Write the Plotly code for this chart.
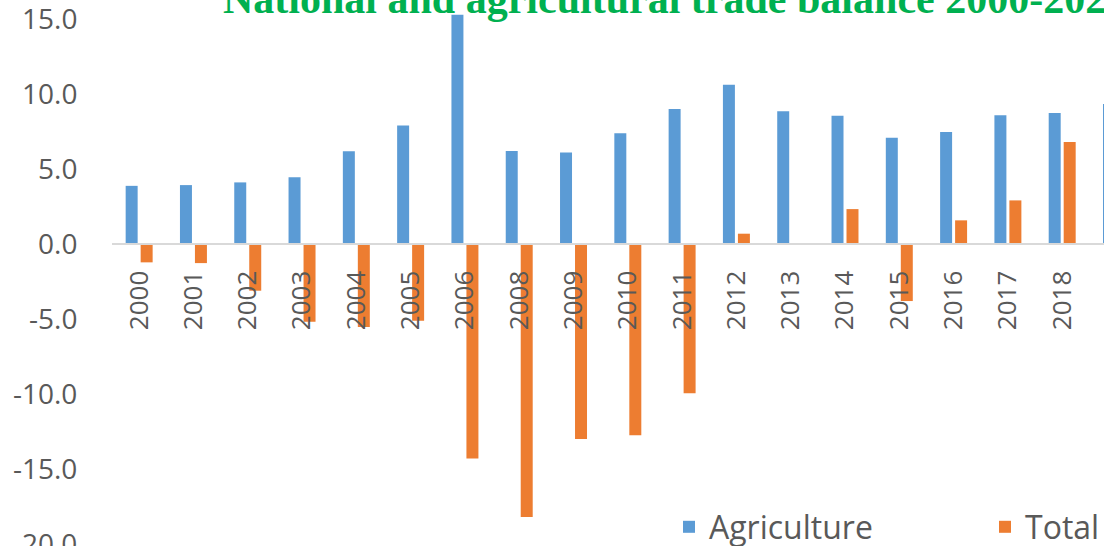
import plotly.graph_objects as go

YEARS = ["2000", "2001", "2002", "2003", "2004", "2005", "2006", "2008", "2009",
         "2010", "2011", "2012", "2013", "2014", "2015", "2016", "2017", "2018", "2019"]
AGRICULTURE = [3.9, 3.95, 4.13, 4.47, 6.2, 7.93, 15.3, 6.22, 6.13,
               7.4, 9.02, 10.64, 8.87, 8.57, 7.1, 7.49, 8.6, 8.75, 9.35]
TOTAL = [-1.2, -1.25, -3.09, -5.16, -5.51, -5.09, -14.27, -18.18, -12.98,
         -12.73, -9.93, 0.71, 0.0, 2.35, -3.78, 1.6, 2.93, 6.82, None]
Y_TICKS = [-20, -15, -10, -5, 0, 5, 10, 15]
TITLE = "National and agricultural trade balance 2000-2020"

BLUE = "#5B9BD5"
ORANGE = "#ED7D31"
GREY_TXT = "#595959"
FONT = "Open Sans, Lato, Arial, sans-serif"

W, H = 1104, 546
L_MARGIN = 112
Y_MIN, Y_MAX = -20.11, 16.29
X_RANGE = [-0.5, 17.77]

fig = go.Figure()
fig.add_trace(go.Bar(x=YEARS, y=AGRICULTURE, name="Agriculture",
                     marker=dict(color=BLUE, line=dict(width=0))))
fig.add_trace(go.Bar(x=YEARS, y=TOTAL, name="Total",
                     marker=dict(color=ORANGE, line=dict(width=0))))

zero_pos = (0 - Y_MIN) / (Y_MAX - Y_MIN)

fig.update_layout(
    width=W, height=H,
    margin=dict(l=L_MARGIN, r=0, t=0, b=0, autoexpand=False),
    paper_bgcolor="white",
    plot_bgcolor="white",
    barmode="group",
    bargap=0.448,
    bargroupgap=0.2,
    font=dict(family=FONT, color=GREY_TXT),
    xaxis=dict(
        type="category",
        categoryorder="array", categoryarray=YEARS,
        range=X_RANGE,
        anchor="free", position=zero_pos,
        showline=True, linecolor="#D9D9D9", linewidth=2,
        showgrid=False, zeroline=False,
        ticks="outside", ticklen=15, tickcolor="rgba(0,0,0,0)",
        tickangle=-90,
        automargin=False,
        tickfont=dict(size=26, color=GREY_TXT, family=FONT),
    ),
    yaxis=dict(
        range=[Y_MIN, Y_MAX],
        tickvals=Y_TICKS,
        ticktext=[f"{v:.1f}" for v in Y_TICKS],
        showgrid=False, zeroline=False, showline=False,
        ticks="outside", ticklen=28, tickcolor="rgba(0,0,0,0)",
        ticklabeloverflow="allow",
        automargin=False,
        tickfont=dict(size=28, color=GREY_TXT, family=FONT),
    ),
    legend=dict(
        orientation="h",
        x=(669 - L_MARGIN) / (W - L_MARGIN), xanchor="left",
        y=(H - 527) / H, yanchor="middle",
        font=dict(size=32, color=GREY_TXT, family=FONT),
        bgcolor="rgba(0,0,0,0)",
        entrywidth=271,
        traceorder="normal",
    ),
    annotations=[dict(
        text=f"<b>{TITLE}</b>",
        xref="paper", yref="paper",
        x=(221 - L_MARGIN) / (W - L_MARGIN), y=1.001,
        xanchor="left", yanchor="middle",
        showarrow=False,
        font=dict(family="Liberation Serif, Times New Roman, serif", size=42, color="#00B050"),
    )],
)

# page body has a default 8px margin; drop it so the figure sits at the window origin
fig.write_html("out.html", config={"displayModeBar": False},
               post_script="document.body.style.margin='0';")
